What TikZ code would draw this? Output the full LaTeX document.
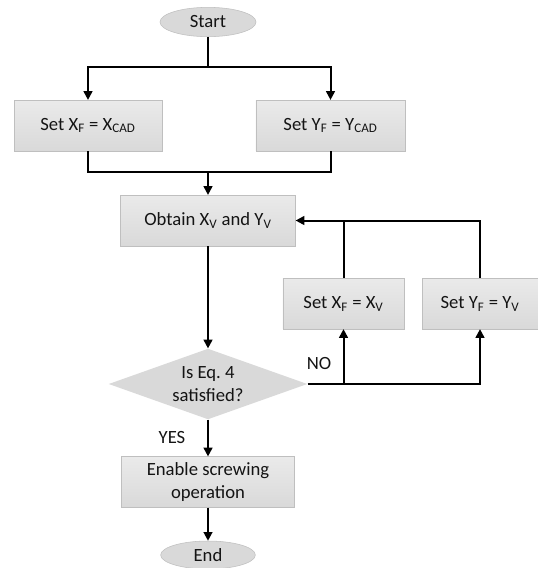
\documentclass[tikz,border=0pt]{standalone}
\usepackage{fontspec}
\setmainfont{Carlito}
\usepackage{tikz}
\usetikzlibrary{arrows.meta, positioning, shapes.geometric}
\definecolor{boxfill}{RGB}{217, 217, 217}
\definecolor{boxedge}{RGB}{191, 191, 191}
\definecolor{ink}{RGB}{20, 20, 20}

\begin{document}
\begin{tikzpicture}[x=0.75pt, y=-0.75pt,
    font=\fontsize{14}{17.5}\selectfont, text=ink,
    proc/.style={rectangle, draw=boxedge, top color=boxfill!55, bottom color=boxfill, align=center, inner sep=2pt},
    term/.style={ellipse, draw=boxedge, fill=boxfill, inner sep=0pt},
    dec/.style={diamond, fill=boxfill, shape aspect=2.8, inner sep=0pt, align=center},
    arr/.style={line width=1.5pt, -{Triangle[length=6.5pt, width=6.5pt]}},
    wire/.style={line width=1.5pt}]
  \useasboundingbox (0,0) rectangle (538,568);
  % main column
  \node[term, minimum width=72pt, minimum height=22pt] (start) at (208,22) {Start};
  \node[proc, minimum width=111pt, minimum height=38pt] (setxf) at (88,125.5) {Set X\textsubscript{F} = X\textsubscript{CAD}};
  \node[proc, minimum width=112pt, minimum height=38pt] (setyf) at (330.5,125.5) {Set Y\textsubscript{F} = Y\textsubscript{CAD}};
  \node[proc, minimum width=131pt, minimum height=38pt] (obtain) at (208,220.5) {Obtain X\textsubscript{V} and Y\textsubscript{V}};
  \node[dec, minimum width=149pt, minimum height=53pt] (check) at (208,384) {Is Eq.\ 4\\satisfied?};
  \node[proc, minimum width=130pt, minimum height=38pt] (enable) at (208,482) {Enable screwing\\operation};
  \node[term, minimum width=71pt, minimum height=21pt] (end) at (208,555) {End};
  % correction boxes
  \node[proc, minimum width=91pt, minimum height=38pt] (setxv) at (343.5,303.5) {Set X\textsubscript{F} = X\textsubscript{V}};
  \node[proc, minimum width=87pt, minimum height=38pt] (setyv) at (480,303.5) {Set Y\textsubscript{F} = Y\textsubscript{V}};
  \node (no) at (319,364) {NO};
  \node (yes) at (172,437) {YES};
  \coordinate (split) at (208,67);
  \coordinate (join) at (208,172);

  \draw[wire] (start) -- (split);
  \draw[arr] (split) -| (setxf);
  \draw[arr] (split) -| (setyf);
  \draw[wire] (setxf) |- (join);
  \draw[wire] (setyf) |- (join);
  \draw[arr] (join) -- (obtain);
  \draw[arr] (obtain) -- (check);
  \draw[arr] (check.east) -| (setyv);
  \draw[arr] (setxv |- check.east) -- (setxv);
  \draw[wire] (setxv) -- (setxv |- obtain);
  \draw[arr] (setyv) |- (obtain);
  \draw[arr] (check) -- (enable);
  \draw[arr] (enable) -- (end);
\end{tikzpicture}
\end{document}
